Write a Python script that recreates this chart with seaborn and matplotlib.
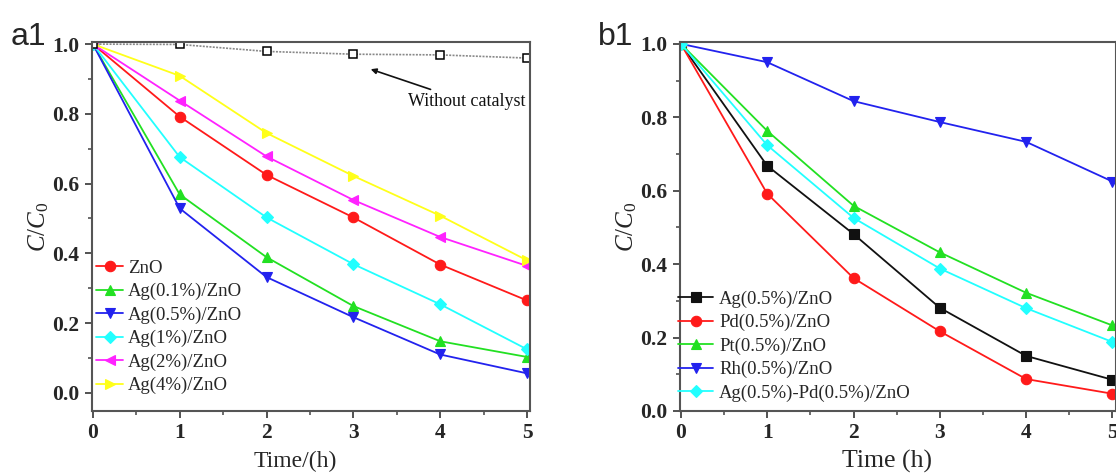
import numpy as np
import pandas as pd
import matplotlib
matplotlib.use("Agg")
import matplotlib.pyplot as plt
from matplotlib.ticker import MultipleLocator
import seaborn as sns

# ---------------- data ----------------
time_h = [0, 1, 2, 3, 4, 5]

# panel a1
a_labels = ["ZnO", "Ag(0.1%)/ZnO", "Ag(0.5%)/ZnO", "Ag(1%)/ZnO", "Ag(2%)/ZnO", "Ag(4%)/ZnO"]
zno = [1.0, 0.792, 0.625, 0.503, 0.368, 0.265]
ag01 = [1.0, 0.569, 0.389, 0.249, 0.148, 0.103]
ag05 = [1.0, 0.529, 0.332, 0.217, 0.110, 0.056]
ag1 = [1.0, 0.676, 0.503, 0.369, 0.254, 0.125]
ag2 = [1.0, 0.838, 0.678, 0.553, 0.447, 0.364]
ag4 = [1.0, 0.909, 0.745, 0.622, 0.508, 0.380]
no_cat = [1.0, 0.999, 0.979, 0.971, 0.969, 0.960]

# panel b1
b_labels = ["Ag(0.5%)/ZnO", "Pd(0.5%)/ZnO", "Pt(0.5%)/ZnO", "Rh(0.5%)/ZnO", "Ag(0.5%)-Pd(0.5%)/ZnO"]
b_ag = [1.0, 0.668, 0.482, 0.281, 0.150, 0.085]
b_pd = [1.0, 0.592, 0.362, 0.217, 0.087, 0.047]
b_pt = [1.0, 0.763, 0.559, 0.432, 0.322, 0.233]
b_rh = [1.0, 0.950, 0.844, 0.787, 0.733, 0.625]
b_agpd = [1.0, 0.724, 0.526, 0.388, 0.280, 0.188]

a_series = [zno, ag01, ag05, ag1, ag2, ag4]
a_colors = ["#ff1a1a", "#22e022", "#2222ee", "#22ffff", "#ff22ff", "#ffff1a"]
a_markers = ["o", "^", "v", "D", "<", ">"]

b_series = [b_ag, b_pd, b_pt, b_rh, b_agpd]
b_colors = ["#111111", "#ff1a1a", "#22e022", "#2222ee", "#22ffff"]
b_markers = ["s", "o", "^", "v", "D"]

# ---------------- style ----------------
sns.set_style("ticks")
plt.rcParams["font.family"] = ["Liberation Serif", "DejaVu Serif"]
plt.rcParams["mathtext.fontset"] = "custom"
plt.rcParams["mathtext.it"] = "Liberation Serif:italic"
plt.rcParams["mathtext.rm"] = "Liberation Serif"

fig = plt.figure(figsize=(11.16, 4.73), dpi=100)
ax_a = fig.add_axes([92 / 1116, 1 - 411 / 473, 438 / 1116, 369 / 473])
ax_b = fig.add_axes([680 / 1116, 1 - 411 / 473, 435.5 / 1116, 369 / 473])


def draw_series(ax, ys, label, color, marker, ms):
    df = pd.DataFrame({"t": time_h, "v": ys})
    sns.lineplot(data=df, x="t", y="v", ax=ax, color=color, marker=marker,
                 markersize=ms, markeredgecolor=color, markeredgewidth=0.8,
                 linewidth=1.3, label=label)


# panel a
for ys, lab, c, m in zip(a_series, a_labels, a_colors, a_markers):
    ms = 6.5 if m in ("D",) else 7.5
    draw_series(ax_a, ys, lab, c, m, ms)
df_nc = pd.DataFrame({"t": time_h, "v": no_cat})
sns.lineplot(data=df_nc, x="t", y="v", ax=ax_a, color="#888888", linestyle=(0, (1.2, 0.8)),
             linewidth=1.2, marker="s", markersize=5.5, markerfacecolor="white",
             markeredgecolor="black", markeredgewidth=1.1, legend=False)
ax_a.annotate("Without catalyst", xy=(3.2, 0.928), xytext=(3.63, 0.835),
              fontsize=13, color="#111111", va="center", ha="left",
              arrowprops=dict(arrowstyle="-|>", color="#111111", lw=1.2,
                              mutation_scale=8, shrinkA=1, shrinkB=0))

# panel b
for ys, lab, c, m in zip(b_series, b_labels, b_colors, b_markers):
    ms = 6.5 if m in ("D", "s") else 7.5
    draw_series(ax_b, ys, lab, c, m, ms)


def style_axes(ax, ylim, anchor, hl):
    ax.set_xlim(-0.01, 5.035)
    ax.set_ylim(*ylim)
    ax.set_xticks(time_h)
    ax.set_yticks([0.0, 0.2, 0.4, 0.6, 0.8, 1.0])
    ax.set_yticklabels(["{:.1f}".format(v) for v in [0.0, 0.2, 0.4, 0.6, 0.8, 1.0]])
    ax.xaxis.set_minor_locator(MultipleLocator(0.5))
    ax.yaxis.set_minor_locator(MultipleLocator(0.1))
    ax.tick_params(which="major", direction="out", length=5, width=1.3, color="#444444",
                   labelsize=15.5, pad=4)
    ax.tick_params(which="minor", direction="out", length=3, width=1.1, color="#444444")
    for lab in ax.get_xticklabels() + ax.get_yticklabels():
        lab.set_fontweight("bold")
    for s in ax.spines.values():
        s.set_visible(True)
        s.set_linewidth(1.5)
        s.set_color("#555555")
    ax.set_ylabel(r"$C/C_0$", fontsize=18, labelpad=1)
    ax.legend(loc="upper left", bbox_to_anchor=anchor, frameon=False, fontsize=13.5,
              handlelength=hl, handletextpad=0.3, labelspacing=0.33,
              borderaxespad=0.0, borderpad=0.0)


style_axes(ax_a, (-0.052, 1.006), (0.01, 0.41), 1.4)
style_axes(ax_b, (0.0, 1.005), (-0.005, 0.327), 1.9)

ax_a.set_xlabel("Time/(h)", fontsize=17)
ax_b.set_xlabel("Time (h)", fontsize=18.5)
ax_a.xaxis.set_label_coords(0.465, -0.138)
ax_b.xaxis.set_label_coords(0.475, -0.138)
ax_a.xaxis.label.set_va("center")
ax_b.xaxis.label.set_va("center")

fig.text(11 / 1116, 1 - 45 / 473, "a1", fontsize=23, family="Liberation Sans")
fig.text(598 / 1116, 1 - 45 / 473, "b1", fontsize=23, family="Liberation Sans")

fig.savefig("out.png", dpi=100)
